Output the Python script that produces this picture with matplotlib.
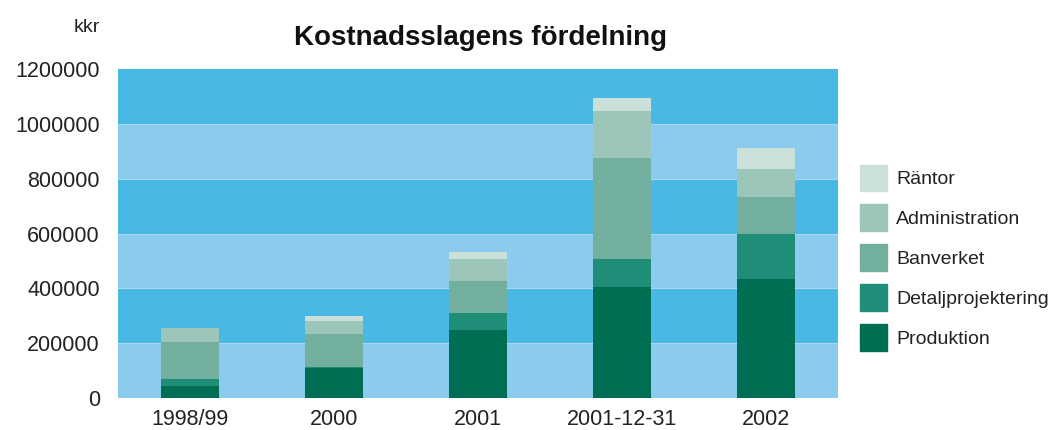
import matplotlib.pyplot as plt
from matplotlib.patches import Patch

# data (kkr)
years = ['1998/99', '2000', '2001', '2001-12-31', '2002']
produktion = [44000, 109000, 247000, 406000, 434000]
detaljprojektering = [26000, 5000, 64000, 102000, 164000]
banverket = [134000, 119000, 116000, 366000, 135000]
administration = [50000, 48000, 80000, 173000, 102000]
rantor = [3000, 18000, 25000, 47000, 77000]

series = [produktion, detaljprojektering, banverket, administration, rantor]
names = ['Produktion', 'Detaljprojektering', 'Banverket', 'Administration', 'Räntor']
colors = ['#006e52', '#1e8e79', '#72af9e', '#9dc6ba', '#cce0da']

plt.rcParams['font.family'] = ['Liberation Sans', 'DejaVu Sans']

fig = plt.figure(figsize=(10.64, 4.30), dpi=100)
ax = fig.add_axes([118/1064, 1-398/430, 720/1064, 329/430])

# striped background
band_light = '#8bcbee'
band_dark = '#48b8e5'
for i in range(6):
    ax.axhspan(i*200000, (i+1)*200000, color=band_light if i % 2 == 0 else band_dark,
               zorder=0, lw=0)
for i in range(1, 6):
    ax.axhline(i*200000, color='#a8d8f2', lw=0.8, zorder=0.5)

x = range(len(years))
bottom = [0]*len(years)
for vals, c in zip(series, colors):
    ax.bar(x, vals, 0.4, bottom=bottom, color=c, zorder=2)
    bottom = [b + v for b, v in zip(bottom, vals)]

ax.set_xlim(-0.5, 4.5)
ax.set_ylim(0, 1200000)
ax.set_yticks(range(0, 1200001, 200000))
ax.set_yticklabels([str(v) for v in range(0, 1200001, 200000)])
ax.set_xticks(list(x))
ax.set_xticklabels(years)
ax.tick_params(length=0, labelsize=15.5, colors='#222222')
ax.tick_params(axis='y', pad=13)
ax.tick_params(axis='x', pad=8)
for s in ax.spines.values():
    s.set_visible(False)

fig.text(100/1064, 1-27/430, 'kkr', ha='right', va='center', fontsize=14, color='#222222')
fig.text(480/1064, 1-38/430, 'Kostnadsslagens fördelning', ha='center', va='center',
         fontsize=20, fontweight='bold', color='#111111',
         family=['Liberation Sans Narrow', 'Liberation Sans', 'DejaVu Sans'])

handles = [Patch(color=c, label=n) for c, n in zip(colors, names)][::-1]
fig.legend(handles=handles, loc='upper left', bbox_to_anchor=(842/1064, 1-147/430),
           frameon=False, fontsize=14, handlelength=1.4, handleheight=1.75,
           labelspacing=0.67, handletextpad=0.5, labelcolor='#222222')

fig.savefig('out.png', dpi=100)
